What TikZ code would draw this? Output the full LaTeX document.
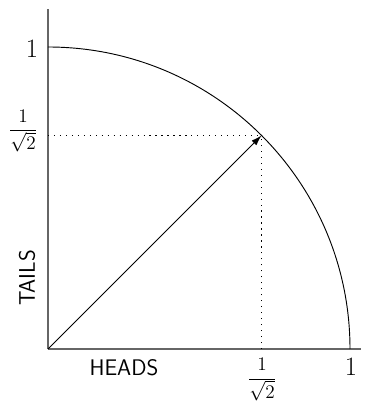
\RequirePackage{fix-cm}
\documentclass[tikz,border=0pt]{standalone}
\usepackage{fontspec}
\usetikzlibrary{arrows.meta}
\tikzset{
  axis/.style={gray!80!black, line width=0.9pt},
  guide/.style={line width=0.8pt, dash pattern=on 0.9pt off 3.6pt},
  bigone/.style={font=\fontsize{20}{24}\selectfont},
  fraclabel/.style={font=\fontsize{14.5}{17}\selectfont},
  axislabel/.style={font=\sffamily\fontsize{17}{20}\selectfont}
}
\begin{document}
\begin{tikzpicture}[line width=0.7pt]
\useasboundingbox (-1.2715,-1.404) rectangle (8.821,9.245);
% Draw axes
  \coordinate (O) at (0,0);
  \coordinate (xend) at (8.291,0);
  \coordinate (yend) at (0,9.007);
  \draw[axis] (O) -- (xend);
  \draw[axis] (O) -- (yend);

  % Draw quarter circle
  \draw (0,8) arc (90:0:8);

  % Point on the circle
  \coordinate (P) at (45:8);
  \coordinate (Px) at (P |- O);
  \coordinate (Py) at (P -| O);
  \draw[guide] (Py) -- (P);
  \draw[guide] (Px) -- (P);
  \draw[-{Latex[length=8pt,width=5pt]}] (O) -- (P);

  % Labels
  \node[bigone] (oney) at (-0.424,7.96) {$1$};
  \node[bigone] (onex) at (8.026,-0.477) {$1$};
  \node[fraclabel] (fracy) at (-0.662,5.775) {$\displaystyle\frac{1}{\sqrt{2}}$};
  \node[fraclabel] (fracx) at (5.669,-0.808) {$\displaystyle\frac{1}{\sqrt{2}}$};
  \node[axislabel] (heads) at (2.013,-0.503) {HEADS};
  \node[axislabel, rotate=90] (tails) at (-0.556,1.881) {TAILS};
\end{tikzpicture}
\end{document}
